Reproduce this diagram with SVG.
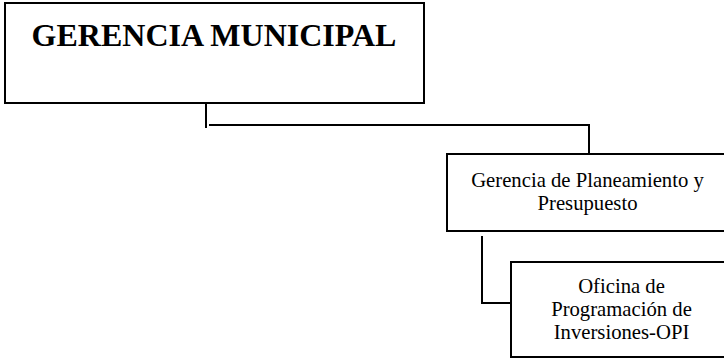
<svg xmlns="http://www.w3.org/2000/svg" width="724" height="361" viewBox="0 0 724 361">
<style>
.box{fill:#fff;stroke:#000;stroke-width:2}
.ln{fill:none;stroke:#000;stroke-width:2}
.t{font-family:"Liberation Serif","Times New Roman",serif;fill:#000;text-anchor:middle}
.s{font-size:20.7px}
.b{font-size:32px;font-weight:bold}
</style>
<rect width="724" height="361" fill="#fff"/>
<g id="connectors">
<path class="ln" d="M206 101 V128"/>
<path class="ln" d="M209 125 H589 V153"/>
<path class="ln" d="M482 236 V303 H511"/>
</g>
<g id="gerencia-municipal">
<rect class="box" x="5" y="3" width="419" height="100"/>
<text class="t b" x="214" y="46">GERENCIA MUNICIPAL</text>
</g>
<g id="gerencia-planeamiento">
<rect class="box" x="447" y="154" width="290" height="77"/>
<text class="t s" x="587.5" y="187">Gerencia de Planeamiento y</text>
<text class="t s" x="587.5" y="210">Presupuesto</text>
</g>
<g id="oficina-opi">
<rect class="box" x="511" y="262" width="230" height="95"/>
<text class="t s" x="621.5" y="293">Oficina de</text>
<text class="t s" x="621.5" y="316">Programación de</text>
<text class="t s" x="621.5" y="339">Inversiones-OPI</text>
</g>
</svg>
